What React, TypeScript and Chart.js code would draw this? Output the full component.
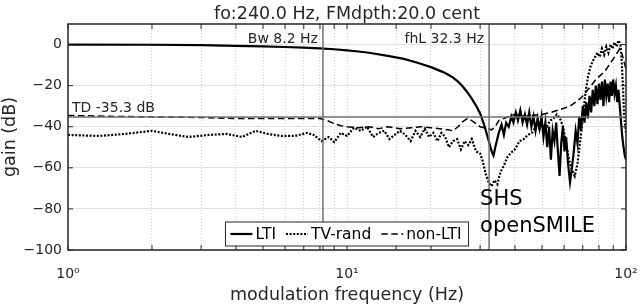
import React, { useEffect, useRef } from 'react';
import { Chart, registerables } from 'chart.js';

Chart.register(...registerables);

// ---------- text ----------
const TITLE = 'fo:240.0 Hz, FMdpth:20.0 cent';
const X_LABEL = 'modulation frequency (Hz)';
const Y_LABEL = 'gain (dB)';
const SERIES_NAMES = ['LTI', 'TV-rand', 'non-LTI'];
const X_TICK_VALUES = [1, 10, 100];
const X_TICK_TEXT = ['10\u2070', '10\u00b9', '10\u00b2'];
const BW_HZ = 8.2;
const FHL_HZ = 32.3;
const TD_DB = -35.3;
const BW_TEXT = 'Bw 8.2 Hz';
const FHL_TEXT = 'fhL 32.3 Hz';
const TD_TEXT = 'TD -35.3 dB';
const NOTE_LINES = ['SHS', 'openSMILE'];

// ---------- data ----------
const LTI_FREQ = [1, 2, 3, 4, 5, 6, 7, 8, 9, 10, 11, 12, 14, 16, 18, 20, 22, 23, 24, 25, 26, 27, 28, 29, 30, 31, 32, 33, 33.5, 34,
  35, 35.8, 36.5, 37.2, 38, 38.8, 39.5, 40.3, 41, 41.8, 42.6, 43.4, 44.2, 45, 45.8, 46.6, 47.4, 48.2, 49, 49.8, 50.6, 51.4,
  52.2, 53, 53.8, 54.6, 55.4, 56.2, 57, 57.8, 58.6, 59.4, 60.2, 61, 62, 63, 64, 65, 66, 67, 68, 69, 70, 71, 72, 73, 74, 75,
  76, 77, 78, 79, 80, 81, 82, 83, 84, 85, 86, 87, 88, 89, 90, 91, 92, 93, 94, 95, 96, 97, 98, 99, 100];
const LTI_GAIN = [0, -0.1, -0.3, -0.6, -0.9, -1.2, -1.5, -1.9, -2.3, -2.8, -3.4, -4, -5.5, -7, -9, -11, -13.3, -14.6, -16.1, -18, -20.4, -23.2, -26.3, -29.7, -33.5, -39, -45.5, -52, -54, -50,
  -43, -39, -44, -38, -40, -35, -38, -33, -37, -32, -38, -34, -39, -33, -40, -35, -42, -36, -41, -35, -45, -38,
  -50, -40, -56, -42, -47, -38, -52, -64, -48, -40, -52, -45, -58, -67, -60, -52, -42, -48, -35, -42, -30, -38, -28, -36, -25, -33,
  -22, -30, -20, -29, -19, -27, -18, -30, -17, -25, -19, -28, -18, -25, -17, -24, -20, -28, -22, -30, -38, -45, -50, -54, -56];

const TVR_FREQ = [1, 1.3, 1.6, 2, 2.3, 2.7, 3.2, 3.7, 4.2, 4.7, 5.2, 5.8, 6.5, 7.2, 7.6, 8.1, 8.6, 9, 9.5, 10, 10.6, 11.2, 11.8,
  12.4, 13, 13.6, 14.2, 14.8, 15.5, 16.2, 16.9, 17.6, 18.3, 19, 19.7, 20.4, 21.1, 21.8, 22.5, 23.2, 24, 24.8, 25.6, 26.4, 27.2,
  28, 29, 30, 30.7, 31.4, 32.2, 33, 33.8, 34.6, 35.5, 36.5, 37.5, 38.5, 40, 41.5, 43, 44.5, 46, 47.5, 49, 50.5, 52, 53.5, 55,
  56.5, 58, 59.5, 61, 62.5, 64, 65.5, 67, 68.5, 70, 71.5, 73, 74.5, 76, 77.5, 79, 80.5, 82, 83.5, 85, 86.5, 88, 89.5, 91, 92.5,
  94, 95.5, 96.5, 97.5, 98.5, 100];
const TVR_GAIN = [-44, -44.5, -43.5, -42, -43.5, -45, -44, -43.5, -45, -42, -43.5, -44.5, -44.5, -43, -44, -47, -45, -47.5, -43, -44.5, -40.5, -42, -40,
  -45, -43, -42, -46, -44, -42, -44, -47, -42, -45, -41, -45, -43, -47, -43, -45, -50, -47, -46, -51, -47, -49,
  -46, -52, -53, -57, -63, -67, -69, -66, -68, -62, -59, -55, -53, -51, -47, -46, -44, -43, -40, -41, -39, -40, -37, -36,
  -34, -36, -40, -48, -56, -61, -64, -58, -47, -36, -24, -16, -11, -8, -6, -4, -6, -2, -5, -1, -4, 0, -2, 1, -1,
  2, 0, -8, -20, -35, -43];

const NLTI_FREQ = [1, 1.5, 2, 3, 4, 5, 6, 7, 8, 8.5, 9, 9.5, 10, 11, 12, 13, 14, 15.5, 17, 18.5, 20, 21.5, 23, 24, 25, 26, 27,
  28, 29, 30, 31, 32, 33, 34, 35, 36.5, 38, 40, 43, 46, 50, 54, 57, 60, 63, 66, 69, 72, 75, 78, 81, 84, 87, 90, 93, 95, 97, 100];
const NLTI_GAIN = [-34.5, -35, -35.2, -35.5, -36, -36, -36, -36, -36, -37, -38.5, -39.5, -40, -40.5, -40, -41, -40, -41, -40.5, -40, -40.5, -41, -41.5, -42, -40, -37.5, -36,
  -37, -38.5, -40, -40.5, -41, -41.5, -40, -37, -36, -35, -34, -35, -34.5, -34, -33, -32, -31, -30, -28, -26, -23, -20, -17, -15, -13, -10, -7, -4, -2, -5, -12];

const FONT = '"DejaVu Sans", sans-serif';
const AXIS_COLOR = '#262626';

function pts(f: number[], g: number[]) {
  return f.map((v, i) => ({ x: v, y: g[i] }));
}

const DASHES = [[], [2, 1.6], [6.5, 3.5]];
const WIDTHS = [2.2, 2.2, 1.5];

const overlay = {
  id: 'overlay',
  afterDatasetsDraw(chart: any) {
    const { ctx, chartArea: a, scales } = chart;
    const x = scales.x;
    const y = scales.y;
    const seg = (x1: number, y1: number, x2: number, y2: number) => {
      ctx.beginPath();
      ctx.moveTo(x1, y1);
      ctx.lineTo(x2, y2);
      ctx.stroke();
    };
    ctx.save();
    // reference lines
    ctx.strokeStyle = '#707070';
    ctx.lineWidth = 1.5;
    const xb = x.getPixelForValue(BW_HZ);
    const xf = x.getPixelForValue(FHL_HZ);
    const yt = y.getPixelForValue(TD_DB);
    seg(xb, a.top, xb, a.bottom);
    seg(xf, a.top, xf, a.bottom);
    seg(a.left, yt, a.right, yt);

    // frame & inward ticks
    ctx.strokeStyle = AXIS_COLOR;
    ctx.lineWidth = 1.5;
    ctx.strokeRect(a.left, a.top, a.right - a.left, a.bottom - a.top);
    ctx.lineWidth = 1;
    x.ticks.forEach((t: any) => {
      const px = x.getPixelForValue(t.value);
      seg(px, a.bottom, px, a.bottom - 5);
      seg(px, a.top, px, a.top + 5);
    });
    y.ticks.forEach((t: any) => {
      const py = y.getPixelForValue(t.value);
      seg(a.left, py, a.left + 5, py);
      seg(a.right, py, a.right - 5, py);
    });

    // annotations
    ctx.fillStyle = AXIS_COLOR;
    ctx.textBaseline = 'alphabetic';
    ctx.font = '14px ' + FONT;
    ctx.textAlign = 'right';
    ctx.fillText(BW_TEXT, xb - 5, a.top + 18.5);
    ctx.fillText(FHL_TEXT, xf - 5, a.top + 18.5);
    ctx.textAlign = 'left';
    ctx.fillText(TD_TEXT, a.left + 4, yt - 5);
    ctx.fillStyle = '#000';
    ctx.font = '21px ' + FONT;
    ctx.fillText(NOTE_LINES[0], xf - 9, a.bottom - 45);
    ctx.fillText(NOTE_LINES[1], xf - 9, a.bottom - 18.5);

    // title and axis labels
    ctx.fillStyle = AXIS_COLOR;
    ctx.font = '17.5px ' + FONT;
    ctx.textAlign = 'center';
    const cx = (a.left + a.right) / 2;
    ctx.fillText(TITLE, cx, 19);
    ctx.fillText(X_LABEL, cx, 300);
    ctx.save();
    ctx.translate(15, (a.top + a.bottom) / 2);
    ctx.rotate(-Math.PI / 2);
    ctx.fillText(Y_LABEL, 0, 0);
    ctx.restore();

    // legend
    ctx.font = '15.5px ' + FONT;
    const sample = 22;
    const widths = SERIES_NAMES.map((n) => ctx.measureText(n).width);
    const padL = 5, gap1 = 3, gap2 = 10, padR = 7;
    let total = padL + padR;
    widths.forEach((w, i) => { total += sample + gap1 + w + (i < widths.length - 1 ? gap2 : 0); });
    const bx = cx - total / 2;
    const bTop = a.bottom - 28;
    const bH = 24;
    ctx.fillStyle = '#fff';
    ctx.fillRect(bx, bTop, total, bH);
    ctx.strokeStyle = AXIS_COLOR;
    ctx.lineWidth = 1;
    ctx.strokeRect(bx, bTop, total, bH);
    const ly = bTop + bH / 2;
    let px = bx + padL;
    ctx.textAlign = 'left';
    ctx.textBaseline = 'middle';
    SERIES_NAMES.forEach((n, i) => {
      ctx.strokeStyle = '#000';
      ctx.lineWidth = WIDTHS[i];
      ctx.setLineDash(DASHES[i]);
      seg(px, ly, px + sample, ly);
      ctx.setLineDash([]);
      px += sample + gap1;
      ctx.fillStyle = '#000';
      ctx.fillText(n, px, ly + 1);
      px += widths[i] + gap2;
    });
    ctx.restore();
  },
};

export default function App() {
  const ref = useRef<HTMLCanvasElement | null>(null);
  useEffect(() => {
    document.body.style.margin = '0';
    const canvas = ref.current;
    if (!canvas) return;
    const series = [pts(LTI_FREQ, LTI_GAIN), pts(TVR_FREQ, TVR_GAIN), pts(NLTI_FREQ, NLTI_GAIN)];
    const chart = new Chart(canvas, {
      type: 'line',
      data: {
        datasets: series.map((d, i) => ({
          label: SERIES_NAMES[i],
          data: d,
          borderColor: '#000',
          backgroundColor: '#000',
          borderWidth: WIDTHS[i],
          borderDash: DASHES[i],
          pointRadius: 0,
          tension: 0,
          fill: false,
        })),
      },
      options: {
        responsive: false,
        animation: false,
        events: [],
        layout: { padding: { top: 24, right: 14, left: 0, bottom: 0 } },
        plugins: { legend: { display: false }, tooltip: { enabled: false }, title: { display: false } },
        scales: {
          x: {
            type: 'logarithmic',
            min: 1,
            max: 100,
            afterFit: (s: any) => { s.height = 56; s.paddingLeft = 0; s.paddingRight = 0; },
            grid: { color: '#cfcfcf', lineWidth: 1, drawTicks: false },
            border: { display: false, dash: [1, 2] },
            ticks: {
              autoSkip: false,
              maxRotation: 0,
              padding: 16,
              color: AXIS_COLOR,
              font: { family: FONT, size: 14 },
              callback: (v: any) => {
                const i = X_TICK_VALUES.findIndex((t) => Math.abs(t - Number(v)) < 1e-6);
                return i >= 0 ? X_TICK_TEXT[i] : '';
              },
            },
          },
          y: {
            min: -100,
            max: 10,
            afterFit: (s: any) => { s.width = 68; s.paddingTop = 0; s.paddingBottom = 0; },
            grid: { color: '#e3e3e3', lineWidth: 1, drawTicks: false },
            border: { display: false },
            ticks: {
              stepSize: 20,
              includeBounds: false,
              padding: 6,
              color: AXIS_COLOR,
              font: { family: FONT, size: 14 },
              callback: (v: any) => String(v).replace('-', '\u2212'),
            },
          },
        },
      },
      plugins: [overlay],
    });
    return () => chart.destroy();
  }, []);
  return (
    <div style={{ width: 640, height: 306 }}>
      <canvas ref={ref} width={640} height={306} style={{ display: 'block' }} />
    </div>
  );
}
